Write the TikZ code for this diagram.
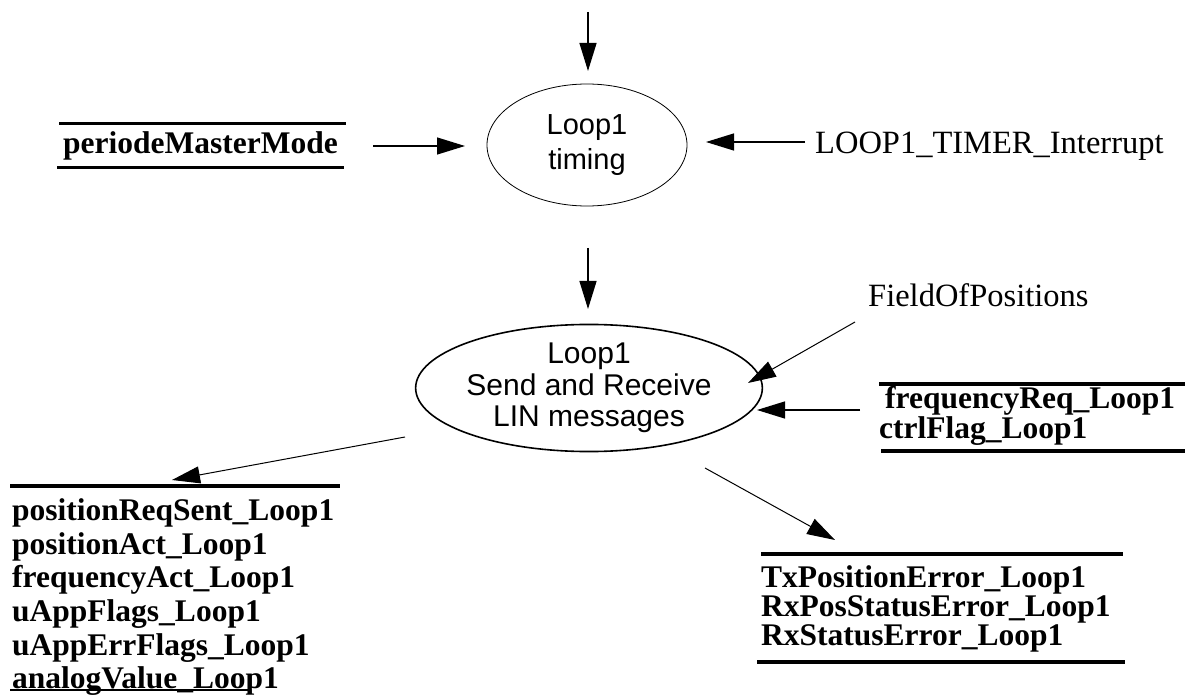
\documentclass[tikz,border=0pt]{standalone}
\usepackage{fontspec}
\setmainfont{Liberation Serif}
\newfontfamily\arialf{Liberation Sans}
\usetikzlibrary{arrows.meta,shapes.geometric}
\begin{document}
\begin{tikzpicture}[x=1pt,y=-1pt,
  arr/.style={line width=1.3pt,-{Triangle[length=28pt,width=17pt]}},
  thinarr/.style={line width=1pt,-{Triangle[length=28pt,width=17pt]}},
  proc/.style={ellipse,draw,inner sep=0pt,align=center,font=\arialf\fontsize{29}{35}\selectfont},
  store/.style={inner sep=0pt,anchor=base west,font=\bfseries\fontsize{31.5}{33}\selectfont},
  ext/.style={inner sep=0pt,anchor=base west,font=\fontsize{32.5}{33}\selectfont},
  bar/.style={line width=3.5pt}]
\useasboundingbox (0,0) rectangle (1187,695);

% processes
\node[proc,line width=0.8pt,minimum width=200pt,minimum height=122pt] (e1) at (587,145) {Loop1\\timing};
\node[proc,line width=1.6pt,minimum width=298pt,minimum height=112pt,
      font=\arialf\fontsize{30}{31.5}\selectfont] (e2) at (589,388) {Loop1\\Send and Receive\\LIN messages};

% externals / labels
\node[ext] (tim) at (815,154) {LOOP1\_TIMER\_Interrupt};
\node[ext] (fop) at (868,306) {FieldOfPositions};

% store: periodeMasterMode
\node[store] (pmm) at (63,154) {periodeMasterMode};
\coordinate (pmmA) at (59,124); \coordinate (pmmB) at (346,124);
\coordinate (pmmC) at (57,168); \coordinate (pmmD) at (344,168);
\draw[line width=3pt] (pmmA) -- (pmmB);
\draw[line width=3pt] (pmmC) -- (pmmD);

% store: frequencyReq
\node[store] (frq) at (885,408) {frequencyReq\_Loop1};
\node[store] (cfl) at (879,438) {ctrlFlag\_Loop1};
\coordinate (frqA) at (879,384); \coordinate (frqB) at (1185,384);
\coordinate (frqC) at (881,451); \coordinate (frqD) at (1185,451);
\draw[bar] (frqA) -- (frqB);
\draw[bar] (frqC) -- (frqD);

% store: left outputs
\node[store] (o1) at (12,520) {positionReqSent\_Loop1};
\node[store] (o2) at (12,554) {positionAct\_Loop1};
\node[store] (o3) at (12,587) {frequencyAct\_Loop1};
\node[store] (o4) at (12,621) {uAppFlags\_Loop1};
\node[store] (o5) at (12,655) {uAppErrFlags\_Loop1};
\node[store] (o6) at (12,688) {analogValue\_Loop1};
\coordinate (oA) at (10,486); \coordinate (oB) at (340,486);
\coordinate (oC) at (10,690); \coordinate (oD) at (250,690);
\draw[bar] (oA) -- (oB);
\draw[line width=2pt] (oC) -- (oD);

% store: errors
\node[store] (r1) at (761,587) {TxPositionError\_Loop1};
\node[store] (r2) at (761,616) {RxPosStatusError\_Loop1};
\node[store] (r3) at (761,645) {RxStatusError\_Loop1};
\coordinate (rA) at (761,554); \coordinate (rB) at (1123,554);
\coordinate (rC) at (757,662); \coordinate (rD) at (1125,662);
\draw[bar] (rA) -- (rB);
\draw[bar] (rC) -- (rD);

% connectors
\coordinate (t0) at (588,12); \coordinate (t1) at (588,71);
\draw[arr] (t0) -- (t1);
\coordinate (p0) at (373,146); \coordinate (p1) at (465,146);
\draw[arr] (p0) -- (p1);
\coordinate (i0) at (805,142); \coordinate (i1) at (706,142);
\draw[arr] (i0) -- (i1);
\coordinate (d0) at (588,248); \coordinate (d1) at (588,309);
\draw[arr] (d0) -- (d1);
\coordinate (f0) at (855,322); \coordinate (f1) at (748,383);
\draw[thinarr] (f0) -- (f1);
\coordinate (q0) at (860,410); \coordinate (q1) at (757,410);
\draw[arr] (q0) -- (q1);
\coordinate (l0) at (405,437); \coordinate (l1) at (172,480);
\draw[thinarr] (l0) -- (l1);
\coordinate (s0) at (705,468); \coordinate (s1) at (835,540);
\draw[thinarr] (s0) -- (s1);
\end{tikzpicture}
\end{document}
